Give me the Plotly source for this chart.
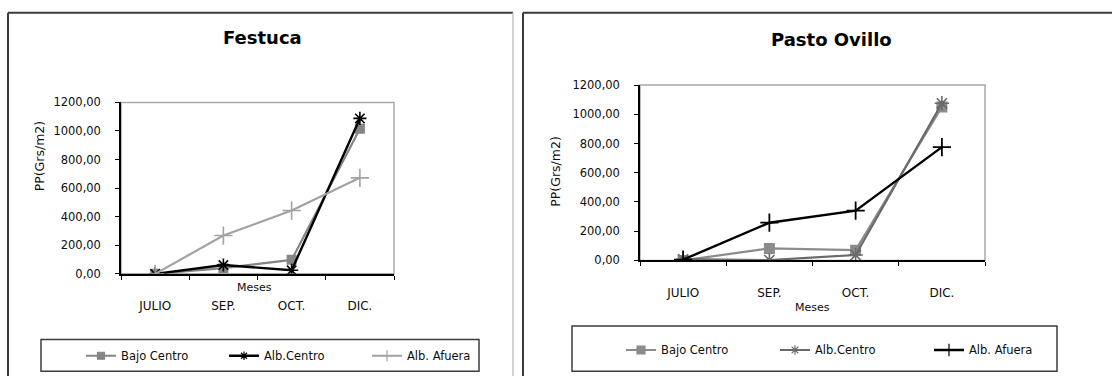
import plotly.graph_objects as go

W, H = 1112, 383

# Categories and series values
meses = ["JULIO", "SEP.", "OCT.", "DIC."]
nombres = ["Bajo Centro", "Alb.Centro", "Alb. Afuera"]

festuca_bajo_centro = [0, 40, 98, 1015]
festuca_alb_centro = [0, 62, 25, 1088]
festuca_alb_afuera = [0, 268, 443, 672]

pasto_bajo_centro = [0, 82, 70, 1050]
pasto_alb_centro = [8, 2, 37, 1075]
pasto_alb_afuera = [5, 258, 340, 775]

y_tickvals = [0, 200, 400, 600, 800, 1000, 1200]
y_ticktext = ["0,00", "200,00", "400,00", "600,00", "800,00", "1000,00", "1200,00"]

FONT = "DejaVu Sans"
TXT = "#0d0d0d"


def px(x):
    return x / W


def py(y):
    return 1 - y / H


fig = go.Figure()


def add_series(vals_list, styles, xa, ya, legend_id):
    for name, vals, (col, lw, sym, ms, mlw, lms) in zip(nombres, vals_list, styles):
        # data line with markers
        fig.add_trace(go.Scatter(
            x=meses, y=vals, name=name, mode="lines+markers",
            line=dict(color=col, width=lw),
            marker=dict(symbol=sym, size=ms, color=col, line=dict(color=col, width=mlw)),
            xaxis=xa, yaxis=ya, showlegend=False,
        ))
        # legend entry drawn with the smaller key symbol
        fig.add_trace(go.Scatter(
            x=[None], y=[None], name=name, mode="lines+markers",
            line=dict(color=col, width=lw),
            marker=dict(symbol=sym, size=lms, color=col, line=dict(color=col, width=1.2)),
            xaxis=xa, yaxis=ya, legend=legend_id, showlegend=True,
        ))


# Festuca panel (left)
add_series(
    [festuca_bajo_centro, festuca_alb_centro, festuca_alb_afuera],
    [
        ("#858585", 2.2, "square", 10, 0, 7),
        ("#000000", 2.4, "asterisk-open", 11, 1.6, 7),
        ("#a2a2a2", 2.2, "cross-thin-open", 13, 1.6, 8),
    ],
    "x", "y", "legend",
)

# Pasto Ovillo panel (right)
add_series(
    [pasto_bajo_centro, pasto_alb_centro, pasto_alb_afuera],
    [
        ("#8c8c8c", 2.2, "square", 11, 0, 8),
        ("#6a6a6a", 2.2, "asterisk-open", 12, 1.6, 8),
        ("#000000", 2.4, "cross-thin-open", 13, 1.8, 9),
    ],
    "x2", "y2", "legend2",
)


def xaxis_cfg(x0, x1, anchor):
    return dict(
        domain=[px(x0), px(x1)], type="category", categoryarray=meses,
        range=[-0.5, 3.5], tickson="boundaries", ticks="outside", ticklen=4,
        tickcolor="#000", tickwidth=1.2, showline=True, linecolor="#000",
        linewidth=1.5, showgrid=False, zeroline=False, fixedrange=True,
        tickfont=dict(family=FONT, size=12, color=TXT), ticklabelstandoff=20,
        anchor=anchor,
    )


def yaxis_cfg(y_top, y_bot, anchor):
    return dict(
        domain=[py(y_bot), py(y_top)], range=[0, 1200], tickvals=y_tickvals,
        ticktext=y_ticktext, ticks="outside", ticklen=4, tickcolor="#000",
        tickwidth=1.2, showline=True, linecolor="#000", linewidth=1.5,
        showgrid=False, zeroline=False, fixedrange=True, anchor=anchor,
        tickfont=dict(family=FONT, size=11.5, color=TXT), ticklabelstandoff=12,
    )


legend_common = dict(
    orientation="h", xanchor="left", yanchor="middle",
    bgcolor="rgba(0,0,0,0)", borderwidth=0,
    font=dict(family=FONT, size=11.5, color=TXT),
    itemsizing="trace", tracegroupgap=0,
)

shapes = [
    # plot frames
    dict(type="rect", xref="x domain", yref="y domain", x0=0, x1=1, y0=0, y1=1,
         line=dict(color="#a9a9a9", width=1.5), layer="below"),
    dict(type="rect", xref="x2 domain", yref="y2 domain", x0=0, x1=1, y0=0, y1=1,
         line=dict(color="#a9a9a9", width=1.5), layer="below"),
    # legend boxes
    dict(type="rect", xref="paper", yref="paper", x0=px(41), x1=px(479),
         y0=py(378), y1=py(345), line=dict(color="#3c3c3c", width=1.5)),
    dict(type="rect", xref="paper", yref="paper", x0=px(572), x1=px(1057),
         y0=py(378), y1=py(331), line=dict(color="#3c3c3c", width=1.5)),
    # panel outlines
    dict(type="line", xref="paper", yref="paper", x0=px(8), x1=px(513),
         y0=py(6), y1=py(6), line=dict(color="#3a3a3a", width=2)),
    dict(type="line", xref="paper", yref="paper", x0=px(8), x1=px(8),
         y0=py(6), y1=py(383), line=dict(color="#3a3a3a", width=2)),
    dict(type="line", xref="paper", yref="paper", x0=px(513), x1=px(513),
         y0=py(6), y1=py(383), line=dict(color="#c4c4c4", width=1.5)),
    dict(type="line", xref="paper", yref="paper", x0=px(523), x1=px(1112),
         y0=py(6), y1=py(6), line=dict(color="#3a3a3a", width=2)),
    dict(type="line", xref="paper", yref="paper", x0=px(523), x1=px(523),
         y0=py(6), y1=py(383), line=dict(color="#3a3a3a", width=2)),
]

annotations = [
    dict(text="<b>Festuca</b>", x=px(262), y=py(32), font=dict(family=FONT, size=18, color="#000")),
    dict(text="<b>Pasto Ovillo</b>", x=px(831), y=py(34), font=dict(family=FONT, size=18, color="#000")),
    dict(text="PP(Grs/m2)", x=px(39), y=py(155), textangle=-90, font=dict(family=FONT, size=12.5, color=TXT)),
    dict(text="PP(Grs/m2)", x=px(556), y=py(171), textangle=-90, font=dict(family=FONT, size=12.5, color=TXT)),
    dict(text="Meses", x=px(254), y=py(291), font=dict(family=FONT, size=11, color=TXT)),
    dict(text="Meses", x=px(812), y=py(312), font=dict(family=FONT, size=11, color=TXT)),
]
for a in annotations:
    a.update(xref="paper", yref="paper", showarrow=False, xanchor="center", yanchor="middle")

fig.update_layout(
    width=W, height=H, margin=dict(l=0, r=0, t=0, b=0),
    paper_bgcolor="#ffffff", plot_bgcolor="#ffffff",
    xaxis=xaxis_cfg(121, 394, "y"), yaxis=yaxis_cfg(99, 277, "x"),
    xaxis2=xaxis_cfg(640, 985, "y2"), yaxis2=yaxis_cfg(81, 263, "x2"),
    legend=dict(x=px(81), y=py(362), entrywidth=98, **legend_common),
    legend2=dict(x=px(621), y=py(356), entrywidth=109, **legend_common),
    shapes=shapes, annotations=annotations,
)

fig.write_html("out.html")
